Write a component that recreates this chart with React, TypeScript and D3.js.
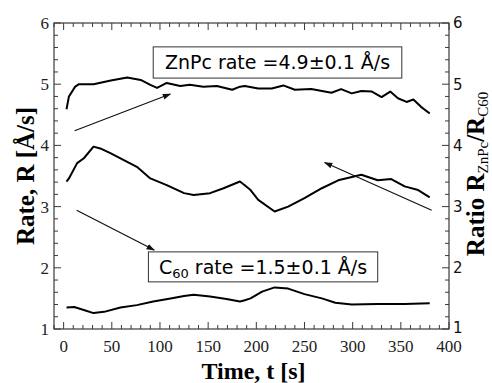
import { useMemo } from 'react'
import * as d3 from 'd3'

// time [s] and values
const znpcTime = [3, 5.5, 12, 16, 31, 49, 66, 80, 90, 97, 107, 121, 131, 145, 159, 175, 183, 188, 202, 216, 228, 240, 257, 278, 288, 299, 309, 320, 330, 339, 347, 356, 363, 371, 380]
const znpcRate = [4.59, 4.8, 4.96, 5.0, 5.0, 5.06, 5.11, 5.07, 4.99, 4.94, 5.02, 4.97, 4.99, 4.96, 4.97, 4.91, 4.96, 4.97, 4.93, 4.93, 4.98, 4.91, 4.92, 4.86, 4.92, 4.85, 4.89, 4.88, 4.79, 4.88, 4.77, 4.71, 4.75, 4.63, 4.52]

const ratioTime = [3, 5.5, 14, 21, 31, 38, 49, 66, 76, 90, 107, 125, 135, 152, 166, 183, 188, 194, 202, 219, 233, 250, 268, 285, 309, 326, 340, 354, 368, 380]
const ratioValue = [3.41, 3.46, 3.71, 3.79, 3.98, 3.95, 3.87, 3.73, 3.65, 3.46, 3.35, 3.22, 3.19, 3.22, 3.3, 3.41, 3.35, 3.27, 3.11, 2.92, 3.0, 3.14, 3.3, 3.43, 3.52, 3.43, 3.45, 3.33, 3.27, 3.15]

const c60Time = [3, 11, 21, 31, 42, 59, 76, 93, 111, 125, 135, 152, 169, 183, 188, 194, 206, 219, 233, 250, 268, 282, 299, 326, 354, 380]
const c60Rate = [1.35, 1.36, 1.31, 1.26, 1.28, 1.35, 1.39, 1.45, 1.5, 1.54, 1.56, 1.53, 1.49, 1.45, 1.47, 1.5, 1.61, 1.68, 1.66, 1.57, 1.5, 1.43, 1.4, 1.41, 1.41, 1.42]

const xTicks = [0, 50, 100, 150, 200, 250, 300, 350, 400]
const yTicks = [1, 2, 3, 4, 5, 6]

// annotation arrows in data units: [t0, v0, t1, v1]
const arrows = [
  [11.4, 4.24, 110.8, 4.84],
  [13.5, 2.94, 94, 2.29],
  [382, 2.94, 271, 3.72]
]

const W = 492
const H = 383
const margin = { left: 54, right: 43, top: 23, bottom: 54 }

export default function App() {
  const x = d3.scaleLinear([-10, 400], [margin.left, W - margin.right])
  const y = d3.scaleLinear([1, 6], [H - margin.bottom, margin.top])

  const line = d3.line<[number, number]>()
    .x(d => x(d[0]))
    .y(d => y(d[1]))

  const series = useMemo(() => [
    d3.zip(znpcTime, znpcRate) as [number, number][],
    d3.zip(ratioTime, ratioValue) as [number, number][],
    d3.zip(c60Time, c60Rate) as [number, number][]
  ], [])

  const x0 = margin.left
  const x1 = W - margin.right
  const y0 = H - margin.bottom
  const y1 = margin.top
  const frame = '#3a3a3a'

  const xMinor = d3.range(-10, 401, 10)
  const yMinor = d3.range(1, 6.001, 0.2)

  const serif = 'Liberation Serif, Times New Roman, serif'
  const sans = 'DejaVu Sans, sans-serif'

  return (
    <svg width={W} height={H} style={{ position: 'absolute', left: 0, top: 0, background: '#fff' }}>
      <defs>
        <marker id="head" viewBox="0 0 10 10" refX="9" refY="5" markerWidth="7" markerHeight="7" orient="auto">
          <path d="M0,1.5 L10,5 L0,8.5 Z" fill="#111" />
        </marker>
      </defs>

      {/* ticks */}
      <g stroke={frame} strokeWidth={1}>
        {xMinor.map(t => {
          const major = t % 50 === 0
          const len = major ? 7 : 4
          return (
            <g key={'x' + t}>
              <line x1={x(t)} x2={x(t)} y1={y0} y2={y0 - len} />
              <line x1={x(t)} x2={x(t)} y1={y1} y2={y1 + len} />
            </g>
          )
        })}
        {yMinor.map((v, i) => {
          const major = i % 5 === 0
          const len = major ? 7 : 4
          return (
            <g key={'y' + i}>
              <line x1={x0} x2={x0 + len} y1={y(v)} y2={y(v)} />
              <line x1={x1} x2={x1 - len} y1={y(v)} y2={y(v)} />
            </g>
          )
        })}
      </g>
      <rect x={x0} y={y1} width={x1 - x0} height={y0 - y1} fill="none" stroke={frame} strokeWidth={1.2} />

      {/* tick labels */}
      {xTicks.map(t => (
        <text key={'xl' + t} x={x(t)} y={y0 + 23} textAnchor="middle" fontFamily={serif} fontSize={17} fill="#222">{t}</text>
      ))}
      {yTicks.map(v => (
        <text key={'yl' + v} x={x0 - 5} y={y(v)} dy="0.35em" textAnchor="end" fontFamily={serif} fontSize={17} fill="#222">{v}</text>
      ))}
      {yTicks.map(v => (
        <text key={'yr' + v} x={x1 + 4} y={y(v)} dy={v === 1 ? '0.25em' : '0.36em'} textAnchor="start" fontFamily={sans} fontSize={15} fill="#111">{v}</text>
      ))}

      {/* axis titles */}
      <text x={(x0 + x1) / 2 + 2} y={H - 4} textAnchor="middle" fontFamily={serif} fontWeight="bold" fontSize={24} fill="#000">Time, t [s]</text>
      <text transform={`translate(34,${(y0 + y1) / 2}) rotate(-90)`} textAnchor="middle" fontFamily={serif} fontWeight="bold" fontSize={25} fill="#000">Rate, R [Å/s]</text>
      <text transform={`translate(484,174) rotate(-90)`} textAnchor="middle" fontFamily={serif} fontWeight="bold" fontSize={25} fill="#000">
        Ratio R<tspan fontSize={15} fontWeight="normal" dy="4">ZnPc</tspan><tspan dy="-4">/R</tspan><tspan fontSize={15} fontWeight="normal" dy="4">C60</tspan>
      </text>

      {/* data */}
      {series.map((s, i) => (
        <path key={'s' + i} d={line(s) ?? ''} fill="none" stroke="#000" strokeWidth={2} strokeLinejoin="round" />
      ))}

      {/* arrows */}
      {arrows.map((a, i) => (
        <line key={'a' + i} x1={x(a[0])} y1={y(a[1])} x2={x(a[2])} y2={y(a[3])} stroke="#111" strokeWidth={1.2} markerEnd="url(#head)" />
      ))}

      {/* annotation boxes */}
      <rect x={x(93)} y={y(5.61)} width={x(351) - x(93)} height={y(5.1) - y(5.61)} fill="#fff" stroke="#333" strokeWidth={1} />
      <text x={(x(93) + x(351)) / 2} y={y(5.61) + 22} textAnchor="middle" fontFamily={sans} fontSize={19} fill="#000">ZnPc rate =4.9±0.1 Å/s</text>

      <rect x={x(88)} y={y(2.26)} width={x(326) - x(88)} height={y(1.77) - y(2.26)} fill="#fff" stroke="#333" strokeWidth={1} />
      <text x={(x(88) + x(326)) / 2} y={y(2.26) + 22} textAnchor="middle" fontFamily={sans} fontSize={19} fill="#000">
        C<tspan fontSize={13} dy="4">60</tspan><tspan dy="-4"> rate =1.5±0.1 Å/s</tspan>
      </text>
    </svg>
  )
}
